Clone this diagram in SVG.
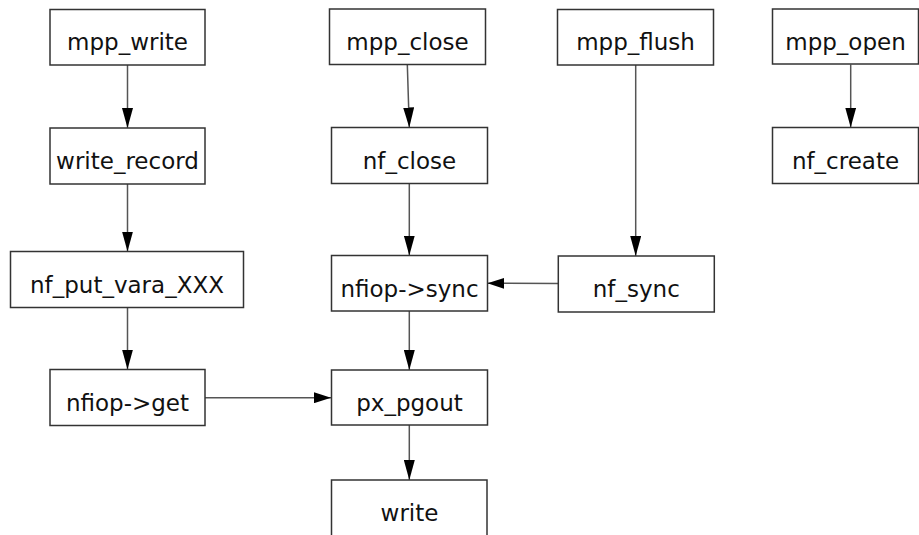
<svg xmlns="http://www.w3.org/2000/svg" width="919" height="535" viewBox="0 0 919 535">
<style>
.box{fill:#fff;stroke:#333;stroke-width:1.5}
.lbl{font-family:"DejaVu Sans",Verdana,sans-serif;font-size:23px;fill:#111;text-anchor:middle}
.edge{stroke:#555;stroke-width:1.5;fill:none}
</style>
<defs>
<marker id="ah" viewBox="0 0 20 11" refX="20" refY="5.5" markerWidth="20" markerHeight="11" markerUnits="userSpaceOnUse" orient="auto">
<path d="M0,0 L20,5.5 L0,11 Z" fill="#000"/>
</marker>
<marker id="ahh" viewBox="0 0 17 11" refX="17" refY="5.5" markerWidth="17" markerHeight="11" markerUnits="userSpaceOnUse" orient="auto">
<path d="M0,0 L17,5.5 L0,11 Z" fill="#000"/>
</marker>
</defs>
<g id="connectors">
<line class="edge" x1="127.5" y1="65" x2="127.5" y2="128" marker-end="url(#ah)"/>
<line class="edge" x1="127.5" y1="184" x2="127.5" y2="251.5" marker-end="url(#ah)"/>
<line class="edge" x1="127.5" y1="307.5" x2="127.5" y2="369.5" marker-end="url(#ah)"/>
<line class="edge" x1="205" y1="397.7" x2="331" y2="397.7" marker-end="url(#ahh)"/>
<line class="edge" x1="407.3" y1="64.5" x2="409.3" y2="127.5" marker-end="url(#ah)"/>
<line class="edge" x1="409.3" y1="183.5" x2="409.3" y2="255.5" marker-end="url(#ah)"/>
<line class="edge" x1="409.3" y1="311" x2="409.3" y2="370" marker-end="url(#ah)"/>
<line class="edge" x1="409.3" y1="425" x2="409.3" y2="480" marker-end="url(#ah)"/>
<line class="edge" x1="635.7" y1="65" x2="635.7" y2="256" marker-end="url(#ah)"/>
<line class="edge" x1="558" y1="283.5" x2="487.5" y2="283.3" marker-end="url(#ahh)"/>
<line class="edge" x1="850.7" y1="64.5" x2="850.7" y2="127.5" marker-end="url(#ah)"/>
</g>
<g id="mpp_write"><rect class="box" x="50" y="9.5" width="155" height="55.5"/><text class="lbl" x="127.5" y="50">mpp_write</text></g>
<g id="write_record"><rect class="box" x="50" y="128" width="155" height="56"/><text class="lbl" x="127.5" y="169">write_record</text></g>
<g id="nf_put_vara_XXX"><rect class="box" x="10.5" y="251.5" width="233" height="56"/><text class="lbl" x="127" y="293">nf_put_vara_XXX</text></g>
<g id="nfiop_get"><rect class="box" x="50" y="369.5" width="155" height="56"/><text class="lbl" x="127.5" y="410.5">nfiop-&gt;get</text></g>
<g id="mpp_close"><rect class="box" x="329.5" y="9" width="156" height="55.5"/><text class="lbl" x="407.5" y="50">mpp_close</text></g>
<g id="nf_close"><rect class="box" x="331.5" y="127.5" width="156" height="56"/><text class="lbl" x="409.5" y="168.5">nf_close</text></g>
<g id="nfiop_sync"><rect class="box" x="331.5" y="255.5" width="156" height="55.5"/><text class="lbl" x="409.5" y="296.5">nfiop-&gt;sync</text></g>
<g id="px_pgout"><rect class="box" x="331.5" y="370" width="156" height="55"/><text class="lbl" x="409.5" y="411">px_pgout</text></g>
<g id="write"><rect class="box" x="331.5" y="480" width="155.5" height="60"/><text class="lbl" x="409.5" y="521">write</text></g>
<g id="mpp_flush"><rect class="box" x="557.5" y="9.5" width="156" height="55.5"/><text class="lbl" x="635.5" y="50">mpp_flush</text></g>
<g id="nf_sync"><rect class="box" x="558.3" y="256" width="156" height="56"/><text class="lbl" x="636.3" y="297">nf_sync</text></g>
<g id="mpp_open"><rect class="box" x="772.5" y="9" width="146" height="55"/><text class="lbl" x="845.5" y="50">mpp_open</text></g>
<g id="nf_create"><rect class="box" x="772.5" y="127.5" width="146" height="56"/><text class="lbl" x="845.5" y="168.5">nf_create</text></g>
</svg>
